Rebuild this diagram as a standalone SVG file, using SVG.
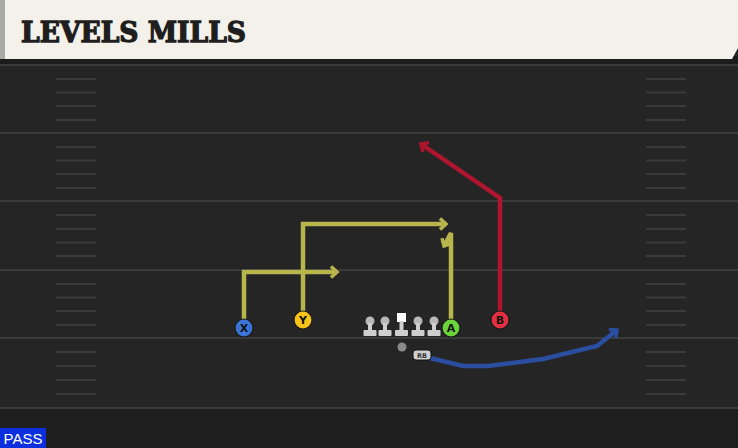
<svg xmlns="http://www.w3.org/2000/svg" width="738" height="448" viewBox="0 0 738 448">
<defs>
<style>
.yard{stroke:#3b3b3b;stroke-width:2}
.hash{stroke:#3a3a3a;stroke-width:2}
.rt{fill:none;stroke-width:4.5;stroke-linejoin:miter;stroke-linecap:butt}
.yel{stroke:#b8b54c}
.red{stroke:#b01530}
.blu{stroke:#2b4ea0}
.pl{stroke:#1a1a1a;stroke-width:1.2}
.lt{font-family:"DejaVu Sans",sans-serif;font-weight:bold;font-size:11px;fill:#111;text-anchor:middle}
.lm{fill:#cfcfcf}
</style>
<marker id="ay" viewBox="-10 -10 20 20" refX="0" refY="0" markerWidth="20" markerHeight="20" markerUnits="userSpaceOnUse" orient="auto" overflow="visible"><path d="M-6,-5.5 L0,0 L-6,5.5" fill="none" stroke="#b8b54c" stroke-width="3.5" stroke-linejoin="miter"/></marker>
<marker id="ar" viewBox="-10 -10 20 20" refX="0" refY="0" markerWidth="20" markerHeight="20" markerUnits="userSpaceOnUse" orient="auto" overflow="visible"><path d="M-6,-5.5 L0,0 L-6,5.5" fill="none" stroke="#b01530" stroke-width="3.5"/></marker>
<marker id="ab" viewBox="-10 -10 20 20" refX="0" refY="0" markerWidth="20" markerHeight="20" markerUnits="userSpaceOnUse" orient="auto" overflow="visible"><path d="M-6,-5.5 L0,0 L-6,5.5" fill="none" stroke="#2b4ea0" stroke-width="3.5"/></marker>
<g id="lineman"><circle cx="0" cy="-8" r="4.5" fill="#b8b8b8"/><rect x="-2" y="-6" width="4" height="8" class="lm"/><rect x="-6.5" y="1" width="13" height="6" rx="1" class="lm"/></g>
</defs>

<rect x="0" y="0" width="738" height="448" fill="#252525"/>
<rect x="0" y="408" width="738" height="40" fill="#1f1f1f"/>
<rect x="0" y="56" width="738" height="8" fill="#1c1c1c"/>

<g id="field">
<line class="yard" x1="0" y1="65" x2="738" y2="65"/>
<line class="yard" x1="0" y1="133" x2="738" y2="133"/>
<line class="yard" x1="0" y1="201" x2="738" y2="201"/>
<line class="yard" x1="0" y1="270" x2="738" y2="270"/>
<line class="yard" x1="0" y1="338" x2="738" y2="338"/>
<line class="yard" x1="0" y1="408" x2="738" y2="408"/>
<g class="hash">
<path d="M56,79H96M56,92.5H96M56,106H96M56,120H96M56,147H96M56,160.5H96M56,174H96M56,188H96M56,215H96M56,229H96M56,242.5H96M56,256H96M56,284H96M56,297.5H96M56,311H96M56,325H96M56,352H96M56,366H96M56,380H96M56,394H96"/>
<path d="M646,79H686M646,92.5H686M646,106H686M646,120H686M646,147H686M646,160.5H686M646,174H686M646,188H686M646,215H686M646,229H686M646,242.5H686M646,256H686M646,284H686M646,297.5H686M646,311H686M646,325H686M646,352H686M646,366H686M646,380H686M646,394H686"/>
</g>
</g>

<g id="header">
<path d="M0,0 H738 V48 L732,59 H0 Z" fill="#f4f1ea"/>
<rect x="0" y="0" width="5" height="59" fill="#a9a9a6"/>
<text x="21" y="42" font-family="'DejaVu Serif',serif" font-weight="900" font-size="27" fill="#1e1e1e" stroke="#1e1e1e" stroke-width="1.3" textLength="225" lengthAdjust="spacingAndGlyphs">LEVELS MILLS</text>
</g>

<g id="connectors">
<path class="rt yel" d="M244,320 V272 H337" marker-end="url(#ay)"/>
<path class="rt yel" d="M303,312 V224 H446" marker-end="url(#ay)"/>
<path class="rt yel" d="M451,320 V233 L444,246" marker-end="url(#ay)"/>
<path class="rt red" d="M500,312 V198 L421,144" marker-end="url(#ar)"/>
<path class="rt blu" d="M430,358 L463,366 L488,366 L543,359 L597,346 L617,330" marker-end="url(#ab)"/>
</g>

<g id="line-ol">
<use href="#lineman" x="370" y="329"/>
<use href="#lineman" x="385" y="329"/>
<g id="center"><rect x="397" y="313" width="9" height="9" fill="#fff"/><rect x="399.5" y="321" width="4" height="9" class="lm"/><rect x="395" y="330" width="13" height="6" rx="1" class="lm"/></g>
<use href="#lineman" x="418" y="329"/>
<use href="#lineman" x="434" y="329"/>
</g>

<g id="qb"><circle cx="402" cy="347" r="4.5" fill="#8a8a8a"/></g>
<g id="rb"><rect x="413" y="350" width="18" height="10" rx="3" fill="#cfcfcf" stroke="#111" stroke-width="1"/><text x="422" y="358" font-family="'DejaVu Sans',sans-serif" font-weight="bold" font-size="6.5" fill="#333" text-anchor="middle">RB</text></g>

<g id="X"><circle class="pl" cx="244" cy="328" r="9" fill="#3b74d8"/><text class="lt" x="244" y="332">X</text></g>
<g id="Y"><circle class="pl" cx="303" cy="320" r="9" fill="#f6c419"/><text class="lt" x="303" y="324">Y</text></g>
<g id="A"><circle class="pl" cx="451" cy="328" r="9" fill="#6ad43a"/><text class="lt" x="451" y="332">A</text></g>
<g id="B"><circle class="pl" cx="500" cy="320" r="9" fill="#e23040"/><text class="lt" x="500" y="324">B</text></g>

<g id="pass"><rect x="0" y="428" width="46" height="20" fill="#0b2fdc"/><text x="23" y="444" font-family="'Liberation Sans',Arial,sans-serif" font-size="15" fill="#fff" text-anchor="middle">PASS</text></g>
</svg>
